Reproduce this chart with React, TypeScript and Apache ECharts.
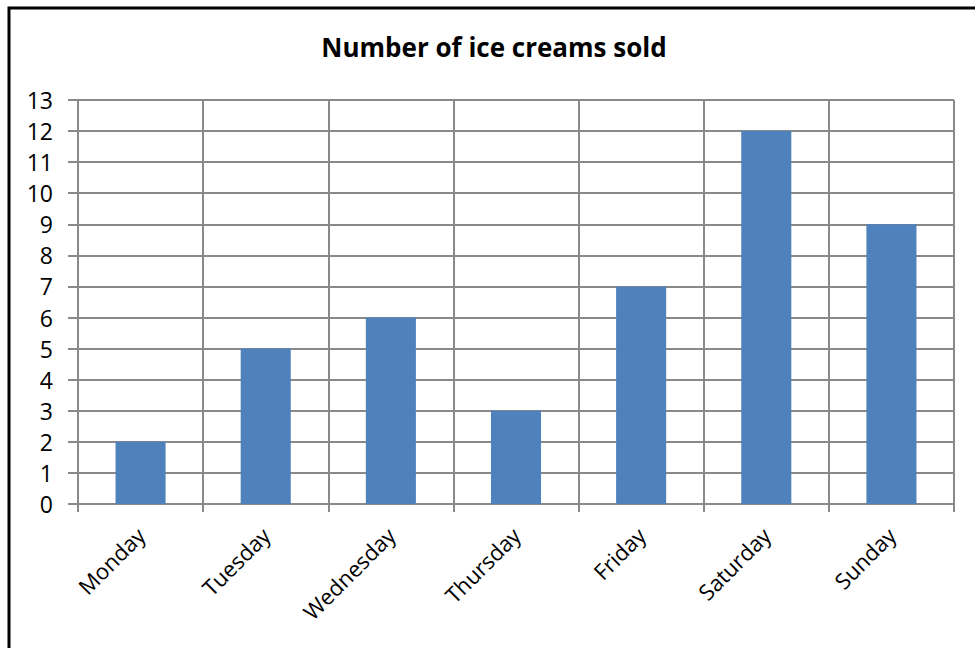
import React, { useEffect, useRef } from "react";
import * as echarts from "echarts";

const categories = ["Monday", "Tuesday", "Wednesday", "Thursday", "Friday", "Saturday", "Sunday"];
const values = [2, 5, 6, 3, 7, 12, 9];
const titleText = "Number of ice creams sold";

export default function App() {
  const ref = useRef<HTMLDivElement>(null);
  useEffect(() => {
    if (!ref.current) return;
    const chart = echarts.init(ref.current, undefined, { renderer: "svg" });
    const font = "'Open Sans', 'Noto Sans', sans-serif";
    const grey = "#898989";
    chart.setOption({
      animation: false,
      backgroundColor: "#ffffff",
      graphic: [
        {
          type: "rect",
          shape: { x: 9, y: 8, width: 980, height: 660 },
          style: { fill: "none", stroke: "#000", lineWidth: 3 },
          silent: true,
        },
        {
          type: "text",
          x: 494,
          y: 47,
          style: {
            text: titleText,
            fill: "#000",
            font: `bold 26px ${font}`,
            textAlign: "center",
            textVerticalAlign: "middle",
          },
        },
      ],
      grid: { left: 78, top: 100, right: 21, bottom: 144, containLabel: false },
      xAxis: {
        type: "category",
        data: categories,
        boundaryGap: true,
        axisLine: { lineStyle: { color: grey, width: 2 } },
        axisTick: { show: true, length: 8, lineStyle: { color: grey, width: 2 } },
        splitLine: { show: true, lineStyle: { color: grey, width: 2 } },
        axisLabel: {
          rotate: 45,
          color: "#000",
          fontSize: 22,
          fontFamily: font,
          margin: 27,
          interval: 0,
        },
      },
      yAxis: {
        type: "value",
        min: 0,
        max: 13,
        interval: 1,
        axisLine: { show: true, lineStyle: { color: grey, width: 2 } },
        axisTick: { show: true, length: 10, lineStyle: { color: grey, width: 2 } },
        splitLine: { show: true, lineStyle: { color: grey, width: 2 } },
        axisLabel: { color: "#000", fontSize: 23, fontFamily: font, margin: 25 },
      },
      series: [
        {
          type: "bar",
          data: values,
          barWidth: "40%",
          itemStyle: { color: "#4F81BD" },
        },
      ],
    });
    return () => chart.dispose();
  }, []);
  return (
    <div
      ref={ref}
      style={{ position: "fixed", left: 0, top: 0, width: 975, height: 648 }}
    />
  );
}
